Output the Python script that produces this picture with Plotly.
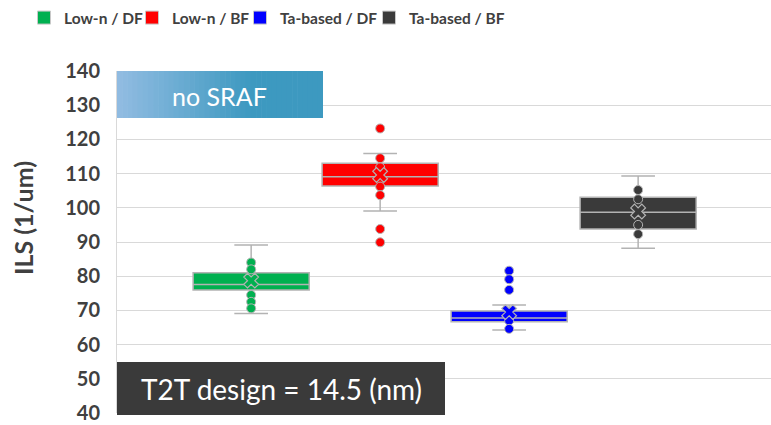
import plotly.graph_objects as go

# ---- data -------------------------------------------------------------
groups = ["Low-n / DF", "Low-n / BF", "Ta-based / DF", "Ta-based / BF"]
colors = ["#00b050", "#ff0000", "#0000ff", "#3a3a3a"]
positions = [1, 2, 3, 4]

q1 = [76.0, 106.4, 66.7, 93.8]
median = [77.6, 109.1, 67.8, 98.7]
q3 = [81.0, 113.0, 69.8, 103.1]
lower_whisker = [69.1, 99.1, 64.3, 88.2]
upper_whisker = [89.1, 115.9, 71.6, 109.3]
means = [78.7, 109.6, 69.5, 98.9]

points_low_n_df = [84.0, 82.0, 74.5, 72.5, 70.6]
points_low_n_bf = [123.2, 114.5, 111.8, 106.2, 103.7, 93.8, 89.9]
points_ta_df = [81.6, 79.1, 76.0, 67.0, 64.6]
points_ta_bf = [105.2, 102.5, 95.0, 92.3]
points = [points_low_n_df, points_low_n_bf, points_ta_df, points_ta_bf]

y_ticks = [40, 50, 60, 70, 80, 90, 100, 110, 120, 130, 140]

# ---- geometry ---------------------------------------------------------
W, H = 771, 425
ML, MR, MT, MB = 117, 0, 71, 12
PW, PH = W - ML - MR, H - MT - MB


def px_x(x):
    return (x - ML) / PW


def px_y(y):
    return (H - MB - y) / PH


TEXT = "#404040"
EDGE = "#b3b3b3"

fig = go.Figure()

for i, name in enumerate(groups):
    fig.add_trace(go.Box(
        x=[positions[i]],
        q1=[q1[i]], median=[median[i]], q3=[q3[i]],
        lowerfence=[lower_whisker[i]], upperfence=[upper_whisker[i]],
        fillcolor=colors[i],
        line=dict(color=EDGE, width=1.5),
        width=0.9, whiskerwidth=0.29,
        boxpoints=False, showlegend=False, hoverinfo="skip",
    ))
    fig.add_trace(go.Scatter(
        x=[positions[i]] * len(points[i]), y=points[i], mode="markers",
        marker=dict(symbol="circle", size=9, color=colors[i],
                    line=dict(color=EDGE, width=1)),
        showlegend=False, hoverinfo="skip",
    ))
    fig.add_trace(go.Scatter(
        x=[positions[i]], y=[means[i]], mode="markers",
        marker=dict(symbol="x", size=13, color=colors[i],
                    line=dict(color=EDGE, width=1.2)),
        showlegend=False, hoverinfo="skip",
    ))

# legend entries as filled squares, one small legend per entry
legend_left_px = [24, 132, 240, 369]
legend_names = ["legend", "legend2", "legend3", "legend4"]
for i, name in enumerate(groups):
    fig.add_trace(go.Scatter(
        x=[None], y=[None], mode="markers", name=name,
        legend=legend_names[i],
        marker=dict(symbol="square", size=13, color=colors[i],
                    line=dict(color="#c8c8c8", width=1)),
    ))

shapes = []
# "no SRAF" label box with a left-to-right gradient
x0, x1, y0, y1 = 117, 323, 71, 118
c_start, c_end = (146, 188, 226), (61, 153, 192)
n = 40
for k in range(n):
    t = min(1.0, (k + 0.5) / n / 0.65)
    c = tuple(round(a + (b - a) * t) for a, b in zip(c_start, c_end))
    xa = x0 + (x1 - x0) * k / n
    xb = x0 + (x1 - x0) * (k + 1) / n + 0.6
    shapes.append(dict(type="rect", xref="paper", yref="paper",
                       x0=px_x(xa), x1=px_x(min(xb, x1)), y0=px_y(y1), y1=px_y(y0),
                       fillcolor="rgb(%d,%d,%d)" % c, line=dict(width=0),
                       layer="above"))
# design note box
shapes.append(dict(type="rect", xref="paper", yref="paper",
                   x0=px_x(117), x1=px_x(445), y0=px_y(415), y1=px_y(362),
                   fillcolor="#3a3a3a", line=dict(width=0), layer="above"))

annotations = [
    dict(text="no SRAF", xref="paper", yref="paper", x=px_x(219), y=px_y(96),
         xanchor="center", yanchor="middle",
         showarrow=False, font=dict(family="Lato", size=25, color="white")),
    dict(text="T2T design = 14.5 (nm)", xref="paper", yref="paper",
         x=px_x(281), y=px_y(389), xanchor="center", yanchor="middle",
         showarrow=False,
         font=dict(family="Lato", size=28, color="white")),
    dict(text="ILS (1/um)", xref="paper", yref="paper", x=px_x(23), y=px_y(218),
         xanchor="center", yanchor="middle",
         textangle=-90, showarrow=False,
         font=dict(family="Lato", size=25, color=TEXT, weight="bold")),
]

legend_font = dict(family="Lato", size=15.5, color=TEXT, weight="bold")
layout_legends = {}
for i, key in enumerate(legend_names):
    layout_legends[key] = dict(
        orientation="h", x=px_x(legend_left_px[i]), y=px_y(1),
        xanchor="left", yanchor="top", font=legend_font,
        bgcolor="rgba(0,0,0,0)", itemsizing="trace")

fig.update_layout(
    width=W, height=H,
    margin=dict(l=ML, r=MR, t=MT, b=MB),
    paper_bgcolor="white", plot_bgcolor="white",
    boxmode="overlay",
    shapes=shapes, annotations=annotations,
    showlegend=True,
    xaxis=dict(range=[-0.04, 5.03], visible=False, fixedrange=True),
    yaxis=dict(range=[40, 140], tickvals=y_ticks, showgrid=True,
               gridcolor="#d9d9d9", gridwidth=1, zeroline=False,
               showline=True, linecolor="#d9d9d9", linewidth=1,
               ticks="", ticklabelstandoff=12,
               tickfont=dict(family="Lato", size=20, color=TEXT, weight="bold")),
    **layout_legends,
)

fig.write_html("out.html")
